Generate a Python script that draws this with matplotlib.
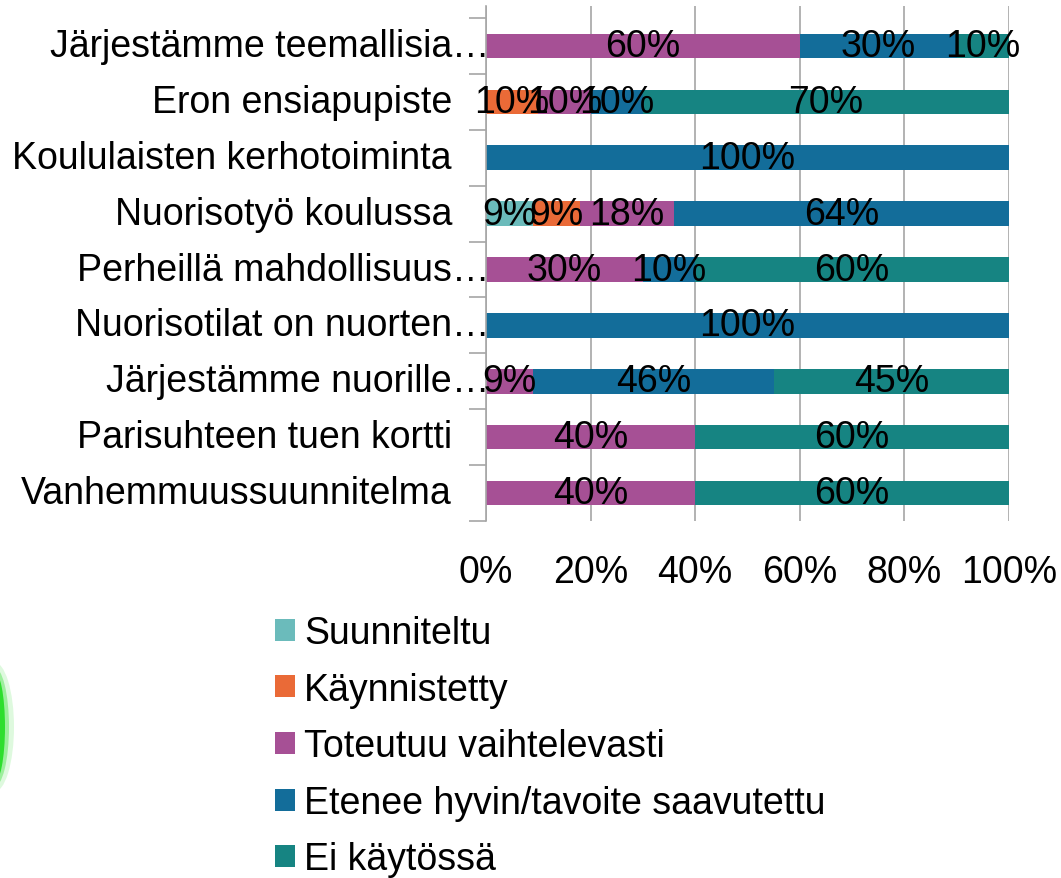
import matplotlib
matplotlib.use("Agg")
from matplotlib import pyplot as plt
from matplotlib.patches import Patch, Ellipse
import numpy as np

plt.rcParams['font.family'] = ['Liberation Sans', 'DejaVu Sans']

# Rivit ylhäältä alas
kategoriat = [
    "Järjestämme teemallisia",
    "Eron ensiapupiste",
    "Koululaisten kerhotoiminta",
    "Nuorisotyö koulussa",
    "Perheillä mahdollisuus",
    "Nuorisotilat on nuorten",
    "Järjestämme nuorille",
    "Parisuhteen tuen kortti",
    "Vanhemmuussuunnitelma",
]
katkaistu = [True, False, False, False, True, True, True, False, False]

# Osuudet prosentteina, yksi lista per tila
suunniteltu = [0, 0, 0, 9, 0, 0, 0, 0, 0]
kaynnistetty = [0, 10, 0, 9, 0, 0, 0, 0, 0]
toteutuu = [60, 10, 0, 18, 30, 0, 9, 40, 40]
etenee = [30, 10, 100, 64, 10, 100, 46, 0, 0]
ei_kaytossa = [10, 70, 0, 0, 60, 0, 45, 60, 60]

sarjat = ["Suunniteltu", "Käynnistetty", "Toteutuu vaihtelevasti",
          "Etenee hyvin/tavoite saavutettu", "Ei käytössä"]
varit = ["#6bbbbb", "#ea6a37", "#a65095", "#136d9a", "#168482"]
arvot = [suunniteltu, kaynnistetty, toteutuu, etenee, ei_kaytossa]

FS = 27
harmaa = "#a6a6a6"

fig = plt.figure(figsize=(10.61, 8.79), dpi=100)
ax = fig.add_axes([486 / 1061, 1 - 522 / 879, 523 / 1061, 515 / 879])

y = np.arange(len(kategoriat))
vasen = np.zeros(len(kategoriat))
for nimi, vari, data in zip(sarjat, varit, arvot):
    data = np.array(data, dtype=float)
    ax.barh(y, data, left=vasen, height=0.44, color=vari, zorder=2)
    for i, v in enumerate(data):
        if v > 0:
            ax.text(vasen[i] + v / 2, y[i], f"{v:.0f}%", ha="center", va="center",
                    fontsize=FS, color="black", zorder=3)
    vasen += data

ax.set_xlim(0, 100)
ax.set_ylim(8.5, -0.715)
ax.set_xticks(np.arange(0, 101, 20))
ax.set_xticklabels([f"{t}%" for t in range(0, 101, 20)], fontsize=FS)
ax.tick_params(axis="x", length=0, pad=24)
ax.grid(axis="x", color=harmaa, linewidth=1.2, zorder=0)

# kategoriarajat pieninä tikkeinä vasemmalla
ax.set_yticks([])
ax.set_yticks(np.arange(-0.5, 9, 1), minor=True)
ax.tick_params(axis="y", which="minor", length=12, width=1.2, color=harmaa,
               direction="out")
for s in ["top", "right", "bottom"]:
    ax.spines[s].set_visible(False)
ax.spines["left"].set_color(harmaa)
ax.spines["left"].set_linewidth(1.2)

# nimet oikealle tasattuina, katkaistuille perään kolme pistettä
for i, (teksti, k) in enumerate(zip(kategoriat, katkaistu)):
    ax.annotate(teksti, xy=(0, i), xycoords=("axes fraction", "data"),
                xytext=(-34, 0), textcoords="offset pixels",
                ha="right", va="center", fontsize=FS)
    if k:
        ax.annotate("…", xy=(0, i), xycoords=("axes fraction", "data"),
                    xytext=(-34, 0), textcoords="offset pixels",
                    ha="left", va="center", fontsize=FS)

kahvat = [Patch(facecolor=c, edgecolor="none") for c in varit]
fig.legend(kahvat, sarjat, loc="upper left", bbox_to_anchor=(260 / 1061, 1 - 601 / 879),
           frameon=False, fontsize=FS, handlelength=0.52, handleheight=0.52,
           handletextpad=0.25, labelspacing=0.55, borderaxespad=0)

# vihreä reunakuvio vasemmassa alakulmassa
for w, a in [(40, 0.15), (30, 0.35), (22, 0.9)]:
    fig.patches.append(Ellipse((-6, 879 - 728), w, 90 + w, transform=None,
                               facecolor="#22dd22", edgecolor="none", alpha=a))

fig.savefig("out.png", dpi=100)
